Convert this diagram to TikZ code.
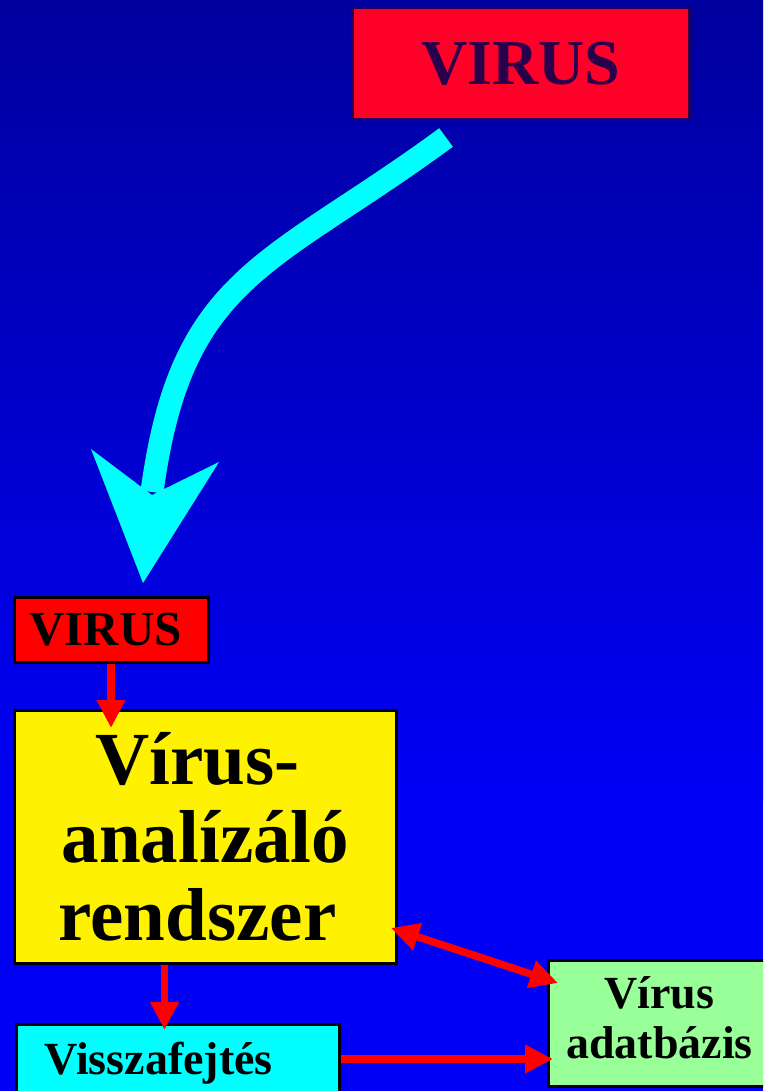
\documentclass[tikz,border=0pt]{standalone}
\usepackage{fontspec}
\setmainfont{Liberation Serif}
\usetikzlibrary{arrows.meta,calc}
\definecolor{bgtop}{RGB}{0,0,158}
\definecolor{bgbot}{RGB}{0,0,246}
\definecolor{topred}{RGB}{255,0,40}
\definecolor{topborder}{RGB}{40,0,80}
\definecolor{toptext}{RGB}{40,0,75}
\definecolor{dbgreen}{RGB}{153,255,153}
\definecolor{arrcyan}{RGB}{0,255,255}
\tikzset{
  box/.style={draw=black, line width=3pt, inner sep=0pt, anchor=north west},
  redarr/.style={draw=red, line width=7.5pt, -{Triangle[length=28pt,width=27pt]}},
  redboth/.style={draw=red, line width=7.5pt, {Triangle[length=28pt,width=27pt]}-{Triangle[length=28pt,width=27pt]}},
  bigarrow/.style={draw=arrcyan, line width=23pt},
}
\begin{document}
\begin{tikzpicture}[x=1pt,y=-1pt]
\useasboundingbox (0,0) rectangle (763,1091);
\clip (0,0) rectangle (763,1091);
\shade[top color=bgtop, bottom color=bgbot] (0,0) rectangle (763,800);
\fill[bgbot] (0,799) rectangle (763,1091);

% boxes
\node[box, draw=topborder, line width=2.5pt, fill=topred, text=toptext,
      minimum width=337pt, minimum height=111pt,
      font={\bfseries\fontsize{64}{64}\selectfont}] (virus1) at (351,7) {VIRUS};
\node[box, fill=red, minimum width=194pt, minimum height=65pt,
      font={\bfseries\fontsize{49}{49}\selectfont}] (virus2) at (13,596) {VIRUS\hspace*{12pt}};
\node[box, fill=yellow, minimum width=382pt, minimum height=253pt, align=center,
      font={\bfseries\fontsize{75}{78}\selectfont}] (yellow) at (13,709)
      {Vírus-\hspace*{16pt}\\analízáló\hspace*{16pt}\\rendszer\hspace*{16pt}};
\node[box, fill=dbgreen, minimum width=222pt, minimum height=126pt, align=center,
      font={\bfseries\fontsize{46}{50}\selectfont}] (dbase) at (547,959)
      {Vírus\\adatbázis\rule[-12pt]{0pt}{12pt}};
\node[box, fill=arrcyan, inner xsep=28pt, inner ysep=0pt, text width=267pt, align=left,
      text height=50pt, text depth=40pt,
      font={\bfseries\fontsize{46}{50}\selectfont}] (rev) at (15,1023) {Visszafejtés};

% big cyan arrow
\draw[bigarrow] ($(virus1.south west)+(95,17)$) .. controls (270,267) and (181,274) .. (152,492);
\fill[arrcyan] (91,449) -- (152,495) -- (219,462) -- (143,583) -- cycle;

% red connectors
\draw[redarr] ($(virus2.south west)+(98,0)$) -- ($(yellow.north west)+(98,19)$);
\draw[redarr] ($(yellow.south west)+(151.5,0)$) -- ($(rev.north west)+(149.5,7)$);
\draw[redboth] ($(yellow.south east)+(-7,-37)$) -- ($(dbase.north west)+(11,24)$);
\draw[redarr] ($(rev.north east)+(0,36)$) -- ($(dbase.north west)+(6,100)$);
\end{tikzpicture}
\end{document}
